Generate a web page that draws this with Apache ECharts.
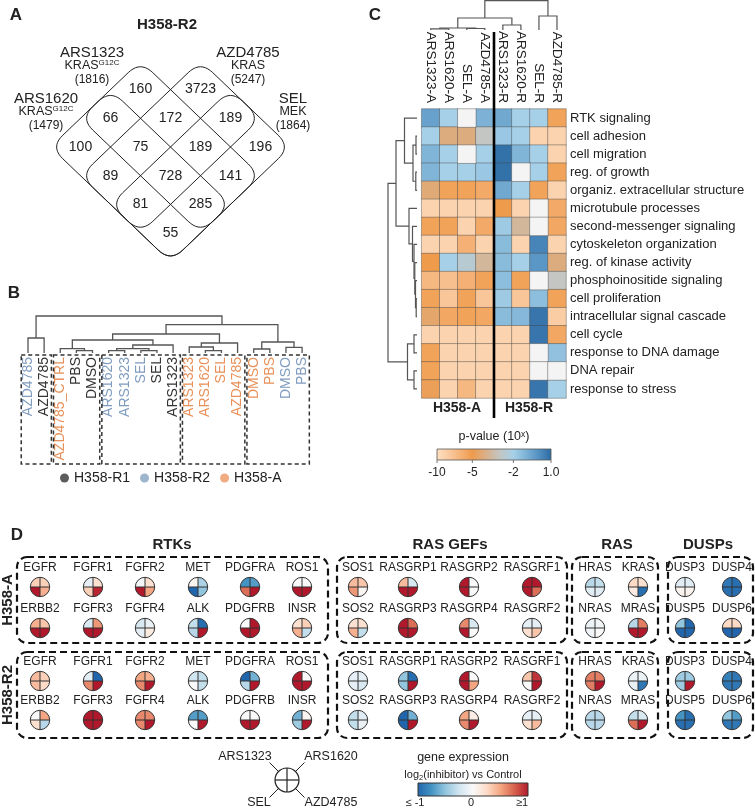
<!DOCTYPE html>
<html><head><meta charset="utf-8">
<script src="https://cdn.jsdelivr.net/npm/echarts@6/dist/echarts.min.js"></script>
<style>html,body{margin:0;padding:0;background:#fff}#c{width:755px;height:808px}</style>
</head><body><div id="c"></div>
<script>
const FONT = '"Liberation Sans", Arial, Helvetica, sans-serif';

// ---------------- Panel A : Venn ----------------
const vennSetNames = ['ARS1323', 'AZD4785', 'ARS1620', 'SEL'];
const vennSetTargets = ['KRAS', 'KRAS', 'KRAS', 'MEK'];
const vennSetTargetSup = ['G12C', '', 'G12C', ''];
const vennSetTotals = [1816, 5247, 1479, 1864];
const vennCounts = [100, 66, 160, 89, 75, 172, 3723, 81, 728, 189, 189, 55, 285, 141, 196];
// lattice cell (i,j) of each count (layout)
const VENN_CELLS = [[0,0],[0,1],[0,2],[1,0],[1,1],[1,2],[1,3],[2,0],[2,1],[2,2],[2,3],[3,0],[3,1],[3,2],[3,3]];
// set shapes in lattice units [i0,i1,j0,j1] (layout): ARS1620, ARS1323, AZD4785, SEL
const VENN_RECTS = [[-0.5,3.5,-0.5,1.5],[-0.5,3.5,0.5,2.5],[0.5,2.5,-0.5,3.5],[1.5,3.5,-0.5,3.5]];
const VENN_LABEL_POS = [[92,53],[248,53],[46,99],[293,99]];

// ---------------- Panel B : dendrogram ----------------
const bLeaves = ['AZD4785','AZD4785','AZD4785_CTRL','PBS','DMSO','ARS1620','ARS1323','SEL','SEL','ARS1323',
                 'ARS1323','ARS1620','SEL','AZD4785','DMSO','PBS','DMSO','PBS'];
const bLeafGroup = ['R2','R1','A','R1','R1','R2','R2','R2','R1','R1','A','A','A','A','A','A','R2','R2'];
const bMerges = [[0,1,15],[3,4,2.3],[2,19,4.3],[5,6,2.3],[7,8,2.3],[21,22,4.3],[23,9,8],[20,24,13],
                 [11,12,2.3],[10,26,6],[27,13,10],[25,28,19],[14,15,4],[16,17,5.7],[30,31,11],[29,32,28.3],[18,33,37]];
const bBoxes = [[0,1],[2,4],[5,9],[10,13],[14,17]];
const bGroups = ['H358-R1','H358-R2','H358-A'];
const GROUP_COLORS = {R1:'#333333', R2:'#7f9cbf', A:'#e8915a'};
const LEGEND_COLORS = ['#333333','#86a2c2','#ec9661'];

// ---------------- Panel C : heatmap ----------------
const hmCols = ['ARS1323-A','ARS1620-A','SEL-A','AZD4785-A','ARS1323-R','ARS1620-R','SEL-R','AZD4785-R'];
const hmRows = ['RTK signaling','cell adhesion','cell migration','reg. of growth','organiz. extracellular structure',
  'microtubule processes','second-messenger signaling','cytoskeleton organization','reg. of kinase activity',
  'phosphoinositide signaling','cell proliferation','intracellular signal cascade','cell cycle',
  'response to DNA damage','DNA repair','response to stress'];
const hmValues = [
 [-0.5, -2.0, null, -1.0, -0.7, -2.0, -2.0, -5.5],
 [-2.0, -4.2, -4.2, -3.0, -1.7, -2.0, -9.0, -9.0],
 [-1.1, -2.0, null, -2.0,  0.8, -1.1, -2.0, -9.0],
 [-1.1, -2.0, -2.0, -1.7,  0.8, null, -2.0, -5.5],
 [-4.3, -5.5, -5.5, -6.0, -0.7, -2.0, -5.5, -9.0],
 [-9.0, -9.0, -9.0, -9.0, -5.0, -9.0, null, -6.0],
 [-5.5, -5.5, -9.0, -6.0, -1.8, -3.7, null, -5.8],
 [-9.0, -9.0, -6.5, -9.0, -1.3, -9.0,  0.3, -9.0],
 [-5.0, -2.0, -2.6, -3.7, -1.3, -2.0, -0.2, -4.2],
 [-7.0, -7.5, -6.5, -5.5, -1.4, -5.5, null, -3.0],
 [-5.5, -8.0, -5.5, -8.0, -1.8, -8.0, -1.4, -5.5],
 [-4.5, -5.8, -5.5, -5.8, -1.3, -1.2,  0.7, -8.5],
 [-9.0, -9.0, -9.0, -9.0, -9.0, -9.0,  0.7, -5.8],
 [-5.5, -9.0, -9.0, -9.0, -9.0, -9.0, null, -1.5],
 [-5.5, -9.0, -9.0, -9.0, -9.0, -9.0, null, null],
 [-4.8, -9.0, -7.0, -9.0, -9.0, -9.0,  0.7, -2.0]
];
const colMerges = [[0,1,1.2],[2,3,1.5],[8,9,2],[4,5,5],[10,11,12],[6,7,14],[12,13,29.3]];
const rowMerges = [[1,2,1],[3,4,1.2],[16,17,4],[0,18,12.5],[10,11,0.8],[9,20,1.5],[8,21,2.2],[7,22,3],[6,23,4.5],
                   [5,24,8],[19,25,21],[12,13,3],[14,15,3],[27,28,9.5],[26,29,29]];
const hmColorValues = [-10,-9,-8,-7,-6,-5,-4,-3,-2,-1,0,1];
const hmColors = ['#fde0c2','#fbd3ae','#f9c69a','#f6b881','#f3aa68','#ef9b4c','#d9b08a','#c3c6c2','#a6d0e8','#7db2d6','#5390c2','#2b6aa3'];
const hmTickValues = [-10, -5, -2, 1];
const hmTickLabels = ['-10', '-5', '-2', '1.0'];
const CB_ANCHORS = [[-10,0],[-5,0.31],[-2,0.67],[1,1]];

// ---------------- Panel D : gene expression ----------------
const dGroups = ['RTKs','RAS GEFs','RAS','DUSPs'];
const dCellLines = ['H358-A','H358-R2'];
const geneRow1 = ['EGFR','FGFR1','FGFR2','MET','PDGFRA','ROS1','SOS1','RASGRP1','RASGRP2','RASGRF1','HRAS','KRAS','DUSP3','DUSP4'];
const geneRow2 = ['ERBB2','FGFR3','FGFR4','ALK','PDGFRB','INSR','SOS2','RASGRP3','RASGRP4','RASGRF2','NRAS','MRAS','DUSP5','DUSP6'];
// quadrant order: ARS1323 (TL), ARS1620 (TR), SEL (BL), AZD4785 (BR)
const exprA_row1 = [[0.3,0.3,1,0.45],[-0.12,0.2,0.3,0.95],[-0.03,0.2,1,0.5],[0.04,-0.4,-1,-0.5],[-0.75,-0.7,0.7,1],[0,0,1,1],
  [0.4,0.35,0.55,0.03],[0.4,-0.2,1,1],[1,0,1,0],[1,1,1,0.7],[-0.35,-0.3,-0.15,-0.15],[0.25,0.2,0.12,-0.95],[-0.15,-0.15,0.06,0.06],[-0.9,-0.95,-0.95,-0.95]];
const exprA_row2 = [[0.45,0.35,1,1],[-0.2,0.55,1,1],[-0.2,-0.1,-0.12,0.12],[-0.3,-0.95,-0.35,1],[0,1,1,1],[0.2,0.3,0.45,-0.3],
  [0.2,0.2,0.45,-0.3],[1,0.7,1,1],[0.6,-0.2,1,0],[-0.12,-0.12,0.2,0.35],[-0.08,-0.05,-0.05,0],[-0.35,0.65,1,1],[-0.5,-1,-1,-1],[0.25,0.25,-1,-1]];
const exprR2_row1 = [[0.4,0.3,0.4,0.25],[-0.15,-1,0.6,1],[0.5,0.45,0.6,1],[-0.25,-0.3,0,-0.3],[-1,-0.6,-0.35,1],[1,0,1,1],
  [-0.12,-0.12,-0.12,-0.2],[-0.5,-0.95,-0.5,1],[1,0,1,0.5],[0.35,0.9,0,1],[0.65,0.65,0.65,1],[-0.08,-0.08,-0.1,-0.9],[-0.45,-0.45,-0.45,1],[-0.85,-0.9,-0.9,-0.9]];
const exprR2_row2 = [[0,0.5,0.2,-0.35],[1,1,1,1],[0.6,0.6,0.6,1],[-0.7,-0.7,0,1],[0,0,1,1],[-0.6,0.05,-0.45,1],
  [-0.3,-0.15,-0.3,-0.1],[-1,-0.6,-1,1],[0.5,0.1,0.6,1],[-0.12,-0.12,0.2,0.4],[-0.35,-0.35,-0.35,-0.35],[-0.3,-0.2,0.7,1],[-0.75,-0.95,-0.95,-0.95],[-0.5,-0.7,-0.9,-0.9]];
const legendDrugs = ['ARS1323','ARS1620','SEL','AZD4785'];
const exprTickLabels = ['\u2264 -1','0','\u22651'];
const EXPR_COLORS = ['#2166ac','#4393c3','#92c5de','#d1e5f0','#f9f9f9','#fddbc7','#f4a582','#d6604d','#b2182b'];

// ---------------- layout constants ----------------
const D_COL_X = [40,93,145,198,250,302,358,408,469,532,595,638,685,732];
const D_ROW_Y = [587,628,681,720];
const D_R = 9.7;
const D_GROUP_X = [172,450,617,708];
const D_BOX_X = [[17,328],[337,567],[572,658],[668,753]];
const D_BOX_Y = [[557,643],[652,738]];

// ---------------- helpers ----------------
function linkage(n, merges){
  const pos=[], ht=[];
  for(let i=0;i<n;i++){pos[i]=i;ht[i]=0;}
  return merges.map((m,k)=>{
    const id=n+k; pos[id]=(pos[m[0]]+pos[m[1]])/2; ht[id]=m[2];
    return [pos[m[0]],ht[m[0]],pos[m[1]],ht[m[1]],m[2]];
  });
}
function dendroRender(horizontal, color, lw){
  return function(params, api){
    const pa=api.value(0), ha=api.value(1), pb=api.value(2), hb=api.value(3), h=api.value(4);
    const P=(p,hh)=> horizontal ? api.coord([hh,p]) : api.coord([p,hh]);
    return {type:'polyline', silent:true, shape:{points:[P(pa,ha),P(pa,h),P(pb,h),P(pb,hb)]},
            style:{stroke:color, lineWidth:lw, fill:null}};
  };
}
function roundPoly(pts, r){
  const out=[], n=pts.length;
  for(let k=0;k<n;k++){
    const p1=pts[k], p0=pts[(k-1+n)%n], p2=pts[(k+1)%n];
    const d0=Math.hypot(p0[0]-p1[0],p0[1]-p1[1]), d2=Math.hypot(p2[0]-p1[0],p2[1]-p1[1]);
    const a=[p1[0]+(p0[0]-p1[0])/d0*r, p1[1]+(p0[1]-p1[1])/d0*r];
    const b=[p1[0]+(p2[0]-p1[0])/d2*r, p1[1]+(p2[1]-p1[1])/d2*r];
    for(let s=0;s<=10;s++){
      const t=s/10, u=1-t;
      out.push([u*u*a[0]+2*u*t*p1[0]+t*t*b[0], u*u*a[1]+2*u*t*p1[1]+t*t*b[1]]);
    }
  }
  return out;
}
function exprColor(v){
  const t=Math.max(0,Math.min(1,(v+1)/2));
  return echarts.color.lerp(t, EXPR_COLORS);
}
function cbPos(v){
  for(let k=0;k<CB_ANCHORS.length-1;k++){
    const [v0,p0]=CB_ANCHORS[k],[v1,p1]=CB_ANCHORS[k+1];
    if(v<=v1) return p0+(v-v0)/(v1-v0)*(p1-p0);
  }
  return 1;
}
function txt(x,y,text,o){
  o=o||{};
  return {type:'text', x:x, y:y, rotation:o.rot||0, silent:true, z:10,
    style:{text:text, fill:o.color||'#222', fontFamily:FONT, fontSize:o.size||12, fontWeight:o.bold?'bold':'normal',
      align:o.align||'center', verticalAlign:o.va||'middle', rich:o.rich}};
}

// ---------------- build data ----------------
const vennPoints = vennCounts.map((n,k)=>[VENN_CELLS[k][0]+VENN_CELLS[k][1], VENN_CELLS[k][0]-VENN_CELLS[k][1], n]);
const bSegs = linkage(bLeaves.length, bMerges);
const colSegs = linkage(hmCols.length, colMerges);
const rowSegs = linkage(hmRows.length, rowMerges);
const hmData=[], hmNA=[];
hmValues.forEach((row,r)=>row.forEach((v,c)=>{ if(v===null) hmNA.push([c,r,0]); else hmData.push([c,r,v]); }));
const dData=[];
[exprA_row1,exprA_row2,exprR2_row1,exprR2_row2].forEach((rows,ri)=>rows.forEach((q,ci)=>dData.push([ci,ri,q[0],q[1],q[2],q[3]])));

// ---------------- graphics ----------------
const G=[];
G.push(txt(16,15,'A',{size:17,bold:true}));
G.push(txt(14,293,'B',{size:17,bold:true}));
G.push(txt(375,15,'C',{size:17,bold:true}));
G.push(txt(17,535,'D',{size:17,bold:true}));
G.push(txt(167,25,'H358-R2',{size:15,bold:true}));
const supRich={sup:{fontSize:8,verticalAlign:'top',fontFamily:FONT,fill:'#222',lineHeight:14},n:{fontSize:12.5,fontFamily:FONT,fill:'#222',lineHeight:14}};
vennSetNames.forEach((nm,k)=>{
  const [x,y]=VENN_LABEL_POS[k];
  G.push(txt(x,y,nm,{size:15}));
  const t='{n|'+vennSetTargets[k]+'}'+(vennSetTargetSup[k]?'{sup|'+vennSetTargetSup[k]+'}':'');
  G.push(txt(x,y+13,t,{size:12.5,rich:supRich}));
  G.push(txt(x,y+26.5,'('+vennSetTotals[k]+')',{size:12}));
});
// heatmap decorations
G.push({type:'line',silent:true,z:10,shape:{x1:494,y1:32,x2:494,y2:418},style:{stroke:'#000',lineWidth:2.6}});
G.push(txt(457,408,'H358-A',{size:14,bold:true}));
G.push(txt(529,408,'H358-R',{size:14,bold:true}));
G.push(txt(494,437,'{n|p-value (10}{s|x}{n|)}',{size:12.5,rich:{s:{fontSize:8.5,verticalAlign:'top',fontFamily:FONT,fill:'#222',lineHeight:14},n:{fontSize:12.5,fontFamily:FONT,fill:'#222',lineHeight:14}}}));
const CB={x:437,y:449,w:114,h:11};
G.push({type:'rect',silent:true,shape:{x:CB.x,y:CB.y,width:CB.w,height:CB.h},
  style:{fill:{type:'linear',x:0,y:0,x2:1,y2:0,colorStops:hmColorValues.map((v,k)=>({offset:cbPos(v),color:hmColors[k]}))},stroke:'#555',lineWidth:0.8}});
hmTickValues.forEach((v,k)=>{
  const x=CB.x+cbPos(v)*CB.w;
  G.push({type:'line',silent:true,shape:{x1:x,y1:CB.y+CB.h,x2:x,y2:CB.y+CB.h+3},style:{stroke:'#555',lineWidth:0.8}});
  G.push(txt(x,473,hmTickLabels[k],{size:12}));
});
// panel D decorations
dGroups.forEach((g,k)=>G.push(txt(D_GROUP_X[k],545,g,{size:15,bold:true})));
D_BOX_Y.forEach(([y0,y1])=>D_BOX_X.forEach(([x0,x1])=>G.push({type:'rect',silent:true,
  shape:{x:x0,y:y0,width:x1-x0,height:y1-y0,r:10},style:{fill:null,stroke:'#111',lineWidth:2.2,lineDash:[7,4]}})));
G.push(txt(8,600,dCellLines[0],{size:15,bold:true,rot:Math.PI/2}));
G.push(txt(8,695,dCellLines[1],{size:15,bold:true,rot:Math.PI/2}));
// quadrant legend
const LC=[287,780], LR=12;
G.push({type:'circle',silent:true,shape:{cx:LC[0],cy:LC[1],r:LR},style:{fill:'#fff',stroke:'#222',lineWidth:1.2}});
G.push({type:'line',silent:true,shape:{x1:LC[0]-LR,y1:LC[1],x2:LC[0]+LR,y2:LC[1]},style:{stroke:'#222',lineWidth:1.2}});
G.push({type:'line',silent:true,shape:{x1:LC[0],y1:LC[1]-LR,x2:LC[0],y2:LC[1]+LR},style:{stroke:'#222',lineWidth:1.2}});
[[-1,-1],[1,-1],[-1,1],[1,1]].forEach(([sx,sy])=>{
  const e=LR*0.707;
  G.push({type:'line',silent:true,shape:{x1:LC[0]+sx*e,y1:LC[1]+sy*e,x2:LC[0]+sx*(e+9),y2:LC[1]+sy*(e+9)},style:{stroke:'#222',lineWidth:1}});
});
G.push(txt(245,757,legendDrugs[0],{size:12.5}));
G.push(txt(331,757,legendDrugs[1],{size:12.5}));
G.push(txt(259,803,legendDrugs[2],{size:12.5}));
G.push(txt(331,803,legendDrugs[3],{size:12.5}));
G.push(txt(463,758,'gene expression',{size:12.5}));
G.push(txt(463,775,'{n|log}{b|2}{n|(inhibitor) vs Control}',{rich:{n:{fontSize:11,fontFamily:FONT,fill:'#222',lineHeight:14},b:{fontSize:7.5,verticalAlign:'bottom',fontFamily:FONT,fill:'#222',lineHeight:14}}}));
G.push({type:'rect',silent:true,shape:{x:418,y:783,width:110,height:13},
  style:{fill:{type:'linear',x:0,y:0,x2:1,y2:0,colorStops:EXPR_COLORS.map((c,k)=>({offset:k/(EXPR_COLORS.length-1),color:c}))},stroke:'#333',lineWidth:1}});
G.push(txt(415,803,exprTickLabels[0],{size:11}));
G.push(txt(471,803,exprTickLabels[1],{size:11}));
G.push(txt(522,803,exprTickLabels[2],{size:11}));

const hiddenAxis = (grid,min,max,extra)=>Object.assign({type:'value',gridIndex:grid,min:min,max:max,show:false,splitLine:{show:false}},extra||{});

const option = {
  animation:false,
  backgroundColor:'#fff',
  textStyle:{fontFamily:FONT},
  grid:[
    {left:50.5, top:32.2, width:240, height:229.6, outerBoundsMode:'none', containLabel:false},
    {left:19.94, top:316, width:290.2, height:37, outerBoundsMode:'none', containLabel:false},
    {left:421.7, top:109, width:144.3, height:289, outerBoundsMode:'none', containLabel:false},
    {left:421.7, top:0, width:144.3, height:30, outerBoundsMode:'none', containLabel:false},
    {left:386, top:109, width:31, height:289, outerBoundsMode:'none', containLabel:false},
    {left:0, top:0, width:755, height:808, outerBoundsMode:'none', containLabel:false}
  ],
  xAxis:[
    hiddenAxis(0,-1,7),
    hiddenAxis(1,-0.5,bLeaves.length-0.5,{position:'top'}),
    {type:'category',gridIndex:1,position:'bottom',
      data:bLeaves.map((l,k)=>({value:l,textStyle:{color:GROUP_COLORS[bLeafGroup[k]]}})),
      axisLine:{show:false},axisTick:{show:false},splitLine:{show:false},
      axisLabel:{rotate:90,interval:0,margin:4,fontSize:14,fontFamily:FONT}},
    {type:'category',gridIndex:2,position:'top',data:hmCols,axisLine:{show:false},axisTick:{show:false},
      axisLabel:{rotate:90,interval:0,margin:6,fontSize:13.5,color:'#222',fontFamily:FONT}},
    hiddenAxis(3,-0.5,hmCols.length-0.5),
    hiddenAxis(4,0,31,{inverse:true}),
    hiddenAxis(5,0,755)
  ],
  yAxis:[
    hiddenAxis(0,-4,4,{inverse:true}),
    hiddenAxis(1,0,37),
    {type:'category',gridIndex:2,position:'right',inverse:true,data:hmRows,axisLine:{show:false},axisTick:{show:false},
      axisLabel:{interval:0,margin:4,fontSize:13,color:'#222',fontFamily:FONT}},
    hiddenAxis(3,0,30),
    hiddenAxis(4,-0.5,hmRows.length-0.5,{inverse:true}),
    hiddenAxis(5,0,808,{inverse:true})
  ],
  visualMap:{type:'continuous',show:false,seriesIndex:5,min:-10,max:1,dimension:2,inRange:{color:hmColors}},
  legend:{data:bGroups,left:55,top:466,icon:'circle',itemWidth:9,itemHeight:9,itemGap:10,selectedMode:false,
    textStyle:{fontSize:14,color:'#222',fontFamily:FONT}},
  graphic:{elements:G},
  series:[
    // 0 venn shapes
    {type:'custom',xAxisIndex:0,yAxisIndex:0,silent:true,data:VENN_RECTS,
      renderItem:function(p,api){
        const i0=api.value(0),i1=api.value(1),j0=api.value(2),j1=api.value(3);
        const pts=[[i0,j0],[i0,j1],[i1,j1],[i1,j0]].map(c=>api.coord([c[0]+c[1],c[0]-c[1]]));
        return {type:'polygon',shape:{points:roundPoly(pts,17)},style:{fill:null,stroke:'#222',lineWidth:1}};
      }},
    // 1 venn counts
    {type:'custom',xAxisIndex:0,yAxisIndex:0,silent:true,data:vennPoints,
      renderItem:function(p,api){
        const c=api.coord([api.value(0),api.value(1)]);
        return {type:'text',x:c[0],y:c[1],style:{text:String(api.value(2)),fontSize:14,fontFamily:FONT,fill:'#222',align:'center',verticalAlign:'middle'}};
      }},
    // 2 B dendrogram
    {type:'custom',xAxisIndex:1,yAxisIndex:1,silent:true,data:bSegs,renderItem:dendroRender(false,'#555',1.3)},
    // 3 B boxes
    {type:'custom',xAxisIndex:1,yAxisIndex:1,silent:true,data:bBoxes,
      renderItem:function(p,api){
        const x0=api.coord([api.value(0)-0.42,0])[0], x1=api.coord([api.value(1)+0.45,0])[0];
        return {type:'rect',shape:{x:x0,y:355,width:x1-x0,height:109},style:{fill:null,stroke:'#333',lineWidth:1.5,lineDash:[4,3]}};
      }},
    // 4 legend holder series
    {type:'scatter',name:bGroups[0],xAxisIndex:1,yAxisIndex:1,data:[],itemStyle:{color:LEGEND_COLORS[0]}},
    // 5 heatmap
    {type:'heatmap',xAxisIndex:3,yAxisIndex:2,data:hmData,silent:true,
      itemStyle:{borderColor:'rgba(70,70,70,0.6)',borderWidth:0.7}},
    // 6 heatmap NA cells
    {type:'heatmap',xAxisIndex:3,yAxisIndex:2,data:hmNA,silent:true,
      itemStyle:{color:'#f4f4f4',borderColor:'rgba(70,70,70,0.6)',borderWidth:0.7}},
    // 7 column dendrogram
    {type:'custom',xAxisIndex:4,yAxisIndex:3,silent:true,data:colSegs,renderItem:dendroRender(false,'#555',1.2)},
    // 8 row dendrogram
    {type:'custom',xAxisIndex:5,yAxisIndex:4,silent:true,data:rowSegs,renderItem:dendroRender(true,'#555',1.2)},
    // 9 panel D circles
    {type:'custom',xAxisIndex:6,yAxisIndex:5,silent:true,data:dData,
      renderItem:function(p,api){
        const col=api.value(0), row=api.value(1);
        const c=api.coord([D_COL_X[col],D_ROW_Y[row]]);
        const ang=[[Math.PI,1.5*Math.PI],[1.5*Math.PI,2*Math.PI],[0.5*Math.PI,Math.PI],[0,0.5*Math.PI]];
        const ch=ang.map((a,k)=>({type:'sector',shape:{cx:c[0],cy:c[1],r0:0,r:D_R,startAngle:a[0],endAngle:a[1],clockwise:true},
          style:{fill:exprColor(api.value(2+k)),stroke:null}}));
        ch.push({type:'line',shape:{x1:c[0]-D_R,y1:c[1],x2:c[0]+D_R,y2:c[1]},style:{stroke:'#333',lineWidth:1}});
        ch.push({type:'line',shape:{x1:c[0],y1:c[1]-D_R,x2:c[0],y2:c[1]+D_R},style:{stroke:'#333',lineWidth:1}});
        ch.push({type:'circle',shape:{cx:c[0],cy:c[1],r:D_R},style:{fill:null,stroke:'#333',lineWidth:1}});
        const name=(row%2===0?geneRow1:geneRow2)[col];
        ch.push({type:'text',x:c[0],y:c[1]-19,style:{text:name,fontSize:12,fontFamily:FONT,fill:'#222',align:'center',verticalAlign:'middle'}});
        return {type:'group',children:ch};
      }},
    {type:'scatter',name:bGroups[1],xAxisIndex:1,yAxisIndex:1,data:[],itemStyle:{color:LEGEND_COLORS[1]}},
    {type:'scatter',name:bGroups[2],xAxisIndex:1,yAxisIndex:1,data:[],itemStyle:{color:LEGEND_COLORS[2]}}
  ]
};
const chart = echarts.init(document.getElementById('c'), null, {renderer:'canvas', width:755, height:808});
chart.setOption(option);
</script></body></html>
